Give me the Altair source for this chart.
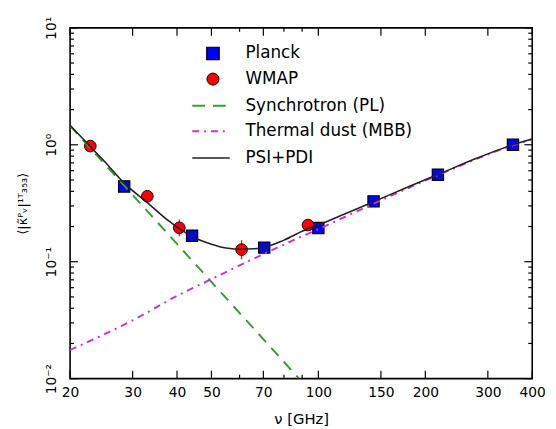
import altair as alt
import pandas as pd

W, H = 469, 356
FONT = "DejaVu Sans"

# ---- data ----
planck_freq = [28.4, 44.1, 70.4, 100, 143, 217, 353]
planck_val = [0.44, 0.167, 0.132, 0.194, 0.328, 0.555, 1.0]

wmap_freq = [22.8, 33.0, 40.6, 60.8, 93.5]
wmap_val = [0.975, 0.363, 0.195, 0.127, 0.206]
wmap_lo = [0.90, 0.34, 0.165, 0.105, 0.19]
wmap_hi = [1.05, 0.385, 0.23, 0.153, 0.222]

sync_freq = [20, 88]
sync_val = [1.45, 0.0101]

dust_freq = [20, 30, 40, 50, 67, 86, 100, 150, 217, 353, 400]
dust_val = [0.0176, 0.0315, 0.051, 0.071, 0.109, 0.155, 0.19, 0.335, 0.55, 0.99, 1.115]

tot_freq = [20, 23, 25, 28.4, 33, 38, 41, 44, 50, 55, 61, 66, 70, 80, 94, 100, 120, 143, 180, 217, 280, 353, 400]
tot_val = [1.47, 0.94, 0.72, 0.47, 0.32, 0.222, 0.188, 0.165, 0.141, 0.131, 0.128, 0.129, 0.132, 0.153, 0.193,
           0.206, 0.26, 0.326, 0.44, 0.556, 0.77, 1.0, 1.12]

x_major = [20, 30, 40, 50, 70, 100, 150, 200, 300, 400]
x_minor = [60, 80, 90]
y_major = [0.01, 0.1, 1, 10]
y_minor = [m * d for d in (0.01, 0.1, 1) for m in range(2, 10)]
y_labels = ["10⁻²", "10⁻¹", "10⁰", "10¹"]

legend_labels = ["Planck", "WMAP", "Synchrotron (PL)", "Thermal dust (MBB)", "PSI+PDI"]

planck_df = pd.DataFrame({"f": planck_freq, "v": planck_val})
wmap_df = pd.DataFrame({"f": wmap_freq, "v": wmap_val, "lo": wmap_lo, "hi": wmap_hi})
sync_df = pd.DataFrame({"f": sync_freq, "v": sync_val})
dust_df = pd.DataFrame({"f": dust_freq, "v": dust_val})
tot_df = pd.DataFrame({"f": tot_freq, "v": tot_val})

xs = alt.Scale(type="log", domain=[20, 400], nice=False)
ys = alt.Scale(type="log", domain=[0.01, 10], nice=False)

label_expr = " : ".join(
    [f"datum.value == {v} ? '{t}'" for v, t in zip(y_major, y_labels)] + ["''"]
)

x_label_axis = alt.Axis(orient="bottom", values=x_major, format="d", labelFontSize=14,
                        labelPadding=7, ticks=False, tickSize=0, domain=False, grid=False,
                        labelFlush=False, labelOverlap=False, labelColor="black",
                        labelFont=FONT, title="ν [GHz]", titleFontSize=15,
                        titleFontWeight="normal", titleFont=FONT, titleColor="black",
                        titlePadding=13)
y_label_axis = alt.Axis(orient="left", values=y_major, labelExpr=label_expr, labelFontSize=14,
                        labelAngle=270, labelAlign="center", labelBaseline="bottom",
                        labelPadding=12, ticks=False, tickSize=0, domain=False, grid=False,
                        labelFlush=False, labelOverlap=False, labelColor="black",
                        labelFont=FONT, title="⟨|κ̃ᴾᵥ|¹ᵀ₃₅₃⟩", titleFontSize=13,
                        titleFontWeight="normal", titleFont=FONT, titleColor="black",
                        titlePadding=15, titleAngle=270)

planck = alt.Chart(planck_df).mark_point(shape="square", filled=True, fill="#0000ff",
                                         stroke="black", strokeWidth=1.2, size=130,
                                         opacity=1).encode(
    x=alt.X("f:Q", scale=xs, axis=x_label_axis),
    y=alt.Y("v:Q", scale=ys, axis=y_label_axis),
)

errs = alt.Chart(wmap_df).mark_rule(color="#ff0000", strokeWidth=1.2).encode(
    x=alt.X("f:Q", scale=xs, axis=None),
    y=alt.Y("lo:Q", scale=ys, axis=None),
    y2="hi:Q",
)

wmap = alt.Chart(wmap_df).mark_point(shape="circle", filled=True, fill="#ff0000",
                                     stroke="#220000", strokeWidth=1.0, size=140,
                                     opacity=1).encode(
    x=alt.X("f:Q", scale=xs, axis=None),
    y=alt.Y("v:Q", scale=ys, axis=None),
)

sync = alt.Chart(sync_df).mark_line(color="#3a9a3a", strokeWidth=2, strokeDash=[11, 8],
                                    clip=True).encode(
    x=alt.X("f:Q", scale=xs, axis=None),
    y=alt.Y("v:Q", scale=ys, axis=None),
)

dust = alt.Chart(dust_df).mark_line(color="#cc33cc", strokeWidth=2, strokeDash=[7, 5, 2, 5],
                                    interpolate="monotone", clip=True).encode(
    x=alt.X("f:Q", scale=xs, axis=None),
    y=alt.Y("v:Q", scale=ys, axis=None),
)

tot = alt.Chart(tot_df).mark_line(color="#222222", strokeWidth=1.6, interpolate="monotone",
                                  clip=True).encode(
    x=alt.X("f:Q", scale=xs, axis=None),
    y=alt.Y("v:Q", scale=ys, axis=None),
)


# ---- inward-pointing ticks on all four sides, drawn from the tick value lists ----
def x_ticks(values, y0, y1):
    return alt.Chart(pd.DataFrame({"f": values})).mark_rule(color="black", strokeWidth=1.2).encode(
        x=alt.X("f:Q", scale=xs, axis=None), y=alt.value(y0), y2=alt.value(y1))


def y_ticks(values, x0, x1):
    return alt.Chart(pd.DataFrame({"v": values})).mark_rule(color="black", strokeWidth=1.2).encode(
        y=alt.Y("v:Q", scale=ys, axis=None), x=alt.value(x0), x2=alt.value(x1))


tick_layers = [
    x_ticks(x_major, H, H - 8), x_ticks(x_minor, H, H - 4),
    x_ticks(x_major, 0, 8), x_ticks(x_minor, 0, 4),
    y_ticks(y_major, 0, 8), y_ticks(y_minor, 0, 4),
    y_ticks(y_major, W, W - 8), y_ticks(y_minor, W, W - 4),
]

# ---- legend (drawn inside the plot) ----
row_y = [26, 52, 79, 105, 132]
sym_x, line_x0, line_x1, text_x = 145, 124, 162, 178

legend_layers = []
for lab, yy in zip(legend_labels, row_y):
    legend_layers.append(
        alt.Chart(pd.DataFrame({"t": [lab]})).mark_text(
            align="left", baseline="middle", fontSize=17, font=FONT, color="black"
        ).encode(x=alt.value(text_x), y=alt.value(yy), text="t:N")
    )

one = pd.DataFrame({"t": [0]})
legend_layers.append(alt.Chart(one).mark_point(shape="square", filled=True, fill="#0000ff",
                                               stroke="black", strokeWidth=1.2, size=160,
                                               opacity=1)
                     .encode(x=alt.value(sym_x), y=alt.value(row_y[0])))
legend_layers.append(alt.Chart(one).mark_point(shape="circle", filled=True, fill="#ff0000",
                                               stroke="#220000", strokeWidth=1.0, size=150,
                                               opacity=1)
                     .encode(x=alt.value(sym_x), y=alt.value(row_y[1])))
legend_layers.append(alt.Chart(one).mark_rule(color="#3a9a3a", strokeWidth=2, strokeDash=[13, 8])
                     .encode(x=alt.value(line_x0), x2=alt.value(line_x1), y=alt.value(row_y[2])))
legend_layers.append(alt.Chart(one).mark_rule(color="#cc33cc", strokeWidth=2,
                                              strokeDash=[7, 5, 2, 5])
                     .encode(x=alt.value(line_x0), x2=alt.value(line_x1), y=alt.value(row_y[3])))
legend_layers.append(alt.Chart(one).mark_rule(color="#222222", strokeWidth=1.6)
                     .encode(x=alt.value(line_x0), x2=alt.value(line_x1), y=alt.value(row_y[4])))

chart = alt.layer(planck, errs, wmap, sync, dust, tot, *tick_layers, *legend_layers).resolve_axis(
    x="independent", y="independent"
).properties(
    width=W, height=H,
    padding={"left": 63, "top": 17, "right": 16, "bottom": 52},
    autosize=alt.AutoSizeParams(type="none"),
    background="white",
).configure_view(stroke="black", strokeWidth=1.6)

chart.save("out.html", embed_options={"renderer": "svg", "actions": False})
